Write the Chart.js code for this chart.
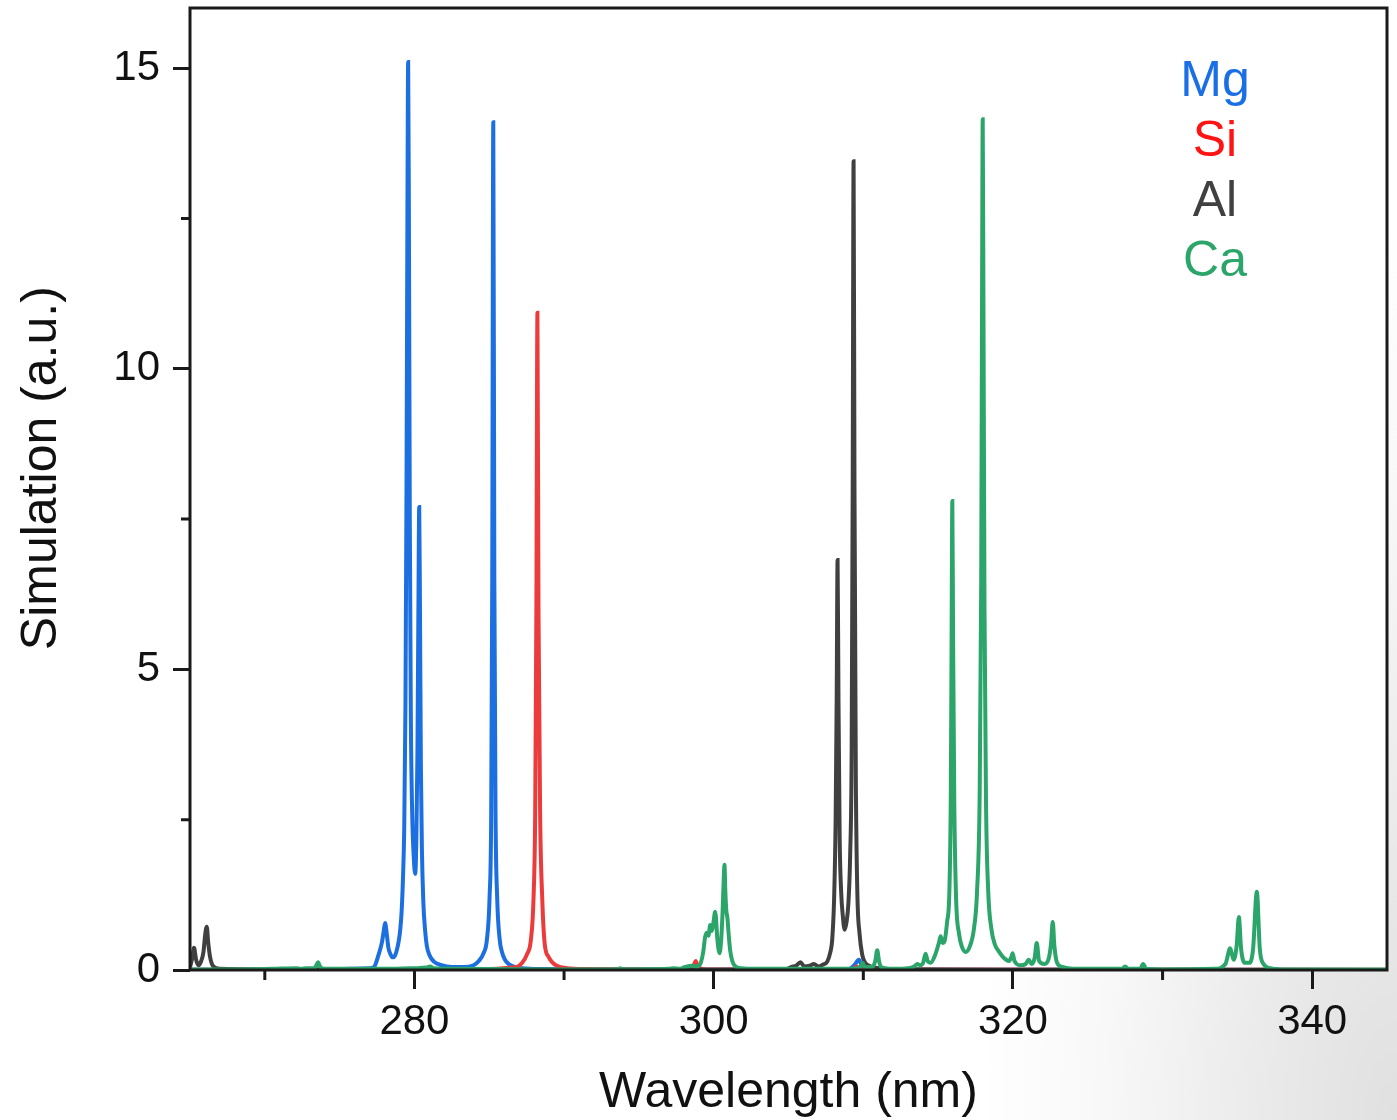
<!DOCTYPE html>
<html>
<head>
<meta charset="utf-8">
<title>Simulated spectrum</title>
<script src="https://cdn.jsdelivr.net/npm/chart.js@4"></script>
<style>
    html, body {
        margin: 0;
        padding: 0;
        width: 1397px;
        height: 1120px;
        overflow: hidden;
        background: radial-gradient(ellipse 420px 900px at 100% 100%, #e0e0e0 0%, #ebebeb 35%, #f8f8f8 70%, #ffffff 100%);
    }
    canvas {
        display: block;
    }
</style>
</head>
<body>
<canvas id="spectrumChart" width="1397" height="1120"></canvas>
<script>
// Wavelength axis (nm) and intensity axis (a.u.)
const xMin = 265;
const xMax = 345;
const yMin = 0;
const yMax = 16;
const xMajorTicks = [280, 300, 320, 340];
const xMinorTicks = [270, 290, 310, 330];
const yMajorTicks = [0, 5, 10, 15];
const yMinorTicks = [2.5, 7.5, 12.5];

// Mg
const mgWl = [265, 270, 274, 276, 277, 277.3, 277.6, 277.82, 277.95, 278.04, 278.15, 278.26, 278.4, 278.56, 278.7,
    278.82, 278.95, 279.05, 279.15, 279.23, 279.32, 279.4, 279.47, 279.53, 279.58, 279.63, 279.69, 279.76, 279.85,
    279.95, 280.05, 280.13, 280.2, 280.26, 280.32, 280.37, 280.43, 280.5, 280.6, 280.7, 280.83, 281.0, 281.3, 281.8,
    282.5, 283.3, 283.95, 284.3, 284.62, 284.84, 285.02, 285.13, 285.2, 285.27, 285.34, 285.42, 285.53, 285.7, 285.85,
    286.05, 286.3, 286.6, 287.2, 288.5, 292, 300, 305, 309.0, 309.4, 309.7, 309.9, 310.3, 312, 345];
const mgVal = [0.005, 0.005, 0.01, 0.02, 0.03, 0.05, 0.25, 0.45, 0.65, 0.78, 0.6, 0.37, 0.26, 0.21, 0.24,
    0.33, 0.48, 0.67, 1.0, 1.5, 2.4, 4.4, 8.0, 12.5, 15.1, 12.5, 7.5, 4.2, 2.6,
    1.9, 1.6, 2.2, 3.6, 5.8, 7.7, 6.0, 3.4, 2.0, 1.1, 0.7, 0.4, 0.25, 0.14, 0.08,
    0.05, 0.05, 0.08, 0.15, 0.28, 0.5, 1.2, 2.6, 6.5, 14.1, 6.5, 2.6, 1.2, 0.5, 0.3,
    0.17, 0.1, 0.06, 0.03, 0.015, 0.01, 0.005, 0.005, 0.01, 0.08, 0.17, 0.07, 0.02, 0.005, 0.002];

// Si
const siWl = [265, 280, 284, 285.5, 286.5, 286.85, 287.2, 287.52, 287.78, 287.96, 288.07, 288.15, 288.22, 288.29,
    288.4, 288.54, 288.7, 288.96, 289.2, 289.52, 290.2, 291.5, 295, 298.4, 298.7, 298.8, 298.95, 299.5,
    309.3, 309.55, 309.8, 345];
const siVal = [0.005, 0.01, 0.015, 0.02, 0.04, 0.05, 0.12, 0.26, 0.5, 1.2, 2.6, 6.0, 10.93, 6.0,
    2.6, 1.2, 0.45, 0.22, 0.13, 0.07, 0.03, 0.015, 0.01, 0.01, 0.1, 0.15, 0.05, 0.01,
    0.01, 0.06, 0.01, 0.005];

// Al
const alWl = [265, 265.15, 265.27, 265.4, 265.56, 265.75, 265.9, 266.02, 266.12, 266.22, 266.34, 266.56, 267, 270,
    290, 304.8, 305.2, 305.5, 305.8, 306.05, 306.4, 306.7, 307.0, 307.3, 307.59, 307.8, 307.92, 308.05, 308.15,
    308.22, 308.28, 308.34, 308.42, 308.52, 308.63, 308.75, 308.88, 309.0, 309.12, 309.22, 309.29, 309.35, 309.41,
    309.5, 309.6, 309.75, 309.93, 310.1, 310.3, 310.8, 312, 320, 345];
const alVal = [0.05, 0.2, 0.37, 0.18, 0.08, 0.15, 0.3, 0.6, 0.72, 0.45, 0.22, 0.06, 0.02, 0.01,
    0.005, 0.01, 0.05, 0.07, 0.13, 0.06, 0.07, 0.1, 0.06, 0.09, 0.14, 0.3, 0.5, 1.2, 2.5,
    4.5, 6.82, 4.5, 2.2, 1.3, 0.9, 0.67, 0.8, 1.1, 1.9, 3.6, 8.0, 13.45, 8.0,
    3.2, 1.3, 0.6, 0.25, 0.13, 0.08, 0.04, 0.015, 0.005, 0.002];

// Ca
const caWl = [265, 268, 270.5, 272.1, 272.4, 272.8, 273.3, 273.45, 273.56, 273.68, 274, 276, 278, 280.0, 280.8,
    281.05, 281.3, 283, 288, 293.6, 293.76, 293.9, 297, 297.33, 297.7, 298.1, 298.56, 298.85, 299.1, 299.3,
    299.43, 299.55, 299.65, 299.77, 299.88, 299.98, 300.1, 300.25, 300.39, 300.5, 300.6, 300.67, 300.72, 300.78,
    300.84, 300.92, 301.0, 301.1, 301.37, 301.8, 303, 309.0, 309.8, 309.95, 310.1, 310.6, 310.8, 310.93, 311.05,
    311.2, 312, 313.0, 313.4, 313.61, 313.8, 314.0, 314.16, 314.3, 314.5, 314.8, 315.05, 315.17, 315.3, 315.45,
    315.6, 315.75, 315.85, 315.9, 315.95, 316.0, 316.08, 316.2, 316.4, 316.6, 316.84, 317.1, 317.4, 317.6, 317.78,
    317.88, 317.94, 317.98, 318.03, 318.1, 318.2, 318.35, 318.55, 318.8, 319.0, 319.4, 319.75, 319.9, 319.98,
    320.1, 320.5, 320.85, 321.05, 321.25, 321.45, 321.59, 321.75, 322.1, 322.4, 322.55, 322.66, 322.77, 322.95,
    323.3, 324, 327.3, 327.5, 327.7, 328.5, 328.7, 328.9, 330, 333.5, 334.2, 334.52, 334.75, 334.95, 335.1,
    335.25, 335.5, 335.8, 336.05, 336.3, 336.5, 336.75, 337.2, 338, 345];
const caVal = [0.01, 0.01, 0.02, 0.03, 0.02, 0.03, 0.03, 0.08, 0.13, 0.06, 0.02, 0.02, 0.02, 0.03, 0.04,
    0.06, 0.03, 0.02, 0.01, 0.01, 0.03, 0.01, 0.02, 0.03, 0.02, 0.05, 0.07, 0.06, 0.1, 0.3,
    0.55, 0.62, 0.57, 0.75, 0.65, 0.78, 0.97, 0.5, 0.28, 0.5, 1.0, 1.5, 1.75, 1.3,
    1.0, 0.86, 0.6, 0.33, 0.08, 0.03, 0.02, 0.02, 0.05, 0.12, 0.05, 0.05, 0.15, 0.33, 0.15,
    0.05, 0.02, 0.03, 0.06, 0.1, 0.08, 0.12, 0.27, 0.15, 0.12, 0.25, 0.45, 0.56, 0.45, 0.5,
    0.8, 1.3, 3.0, 5.5, 7.8, 5.5, 2.8, 1.2, 0.6, 0.38, 0.3, 0.38, 0.7, 1.3, 3.0,
    6.5, 11.5, 14.15, 11.0, 6.0, 2.8, 1.3, 0.7, 0.42, 0.33, 0.2, 0.15, 0.22, 0.28,
    0.15, 0.08, 0.1, 0.17, 0.1, 0.2, 0.45, 0.15, 0.1, 0.2, 0.45, 0.8, 0.4, 0.12,
    0.05, 0.02, 0.02, 0.06, 0.02, 0.02, 0.1, 0.02, 0.01, 0.02, 0.1, 0.36, 0.17, 0.4, 0.88,
    0.35, 0.12, 0.12, 0.35, 1.3, 0.35, 0.1, 0.03, 0.01, 0.01];

// Element labels and line colours
const elements = ['Mg', 'Si', 'Al', 'Ca'];
const lineColors = ['#1b6fe0', '#ec3b3b', '#404040', '#2ba56a'];
const labelColors = ['#1a6fe6', '#ff1414', '#404040', '#2ba56a'];

const FONT = "'Liberation Sans', Arial, Helvetica, sans-serif";
const AXIS_COLOR = '#1a1a1a';

function toPoints(wl, val) {
    return wl.map((x, i) => ({ x: x, y: val[i] }));
}

// White plot background so the page shading stays outside the frame
const plotBackgroundPlugin = {
    id: 'plotBackground',
    beforeDraw(chart) {
        const { ctx, chartArea } = chart;
        ctx.save();
        ctx.fillStyle = '#ffffff';
        ctx.fillRect(chartArea.left, chartArea.top, chartArea.right - chartArea.left, chartArea.bottom - chartArea.top);
        ctx.restore();
    }
};

// Frame around the plot area plus the short minor ticks
const framePlugin = {
    id: 'frame',
    afterDraw(chart) {
        const { ctx, chartArea, scales } = chart;
        ctx.save();
        ctx.strokeStyle = AXIS_COLOR;
        ctx.lineWidth = 3;
        ctx.strokeRect(chartArea.left, chartArea.top, chartArea.right - chartArea.left, chartArea.bottom - chartArea.top);

        ctx.beginPath();
        yMinorTicks.forEach(v => {
            const py = scales.y.getPixelForValue(v);
            ctx.moveTo(chartArea.left, py);
            ctx.lineTo(chartArea.left - 9, py);
        });
        xMinorTicks.forEach(v => {
            const px = scales.x.getPixelForValue(v);
            ctx.moveTo(px, chartArea.bottom);
            ctx.lineTo(px, chartArea.bottom + 10);
        });
        ctx.stroke();
        ctx.restore();
    }
};

// Coloured element names in the upper right of the plot
const elementLabelPlugin = {
    id: 'elementLabels',
    afterDraw(chart) {
        const { ctx, chartArea } = chart;
        ctx.save();
        ctx.font = '50px ' + FONT;
        ctx.textAlign = 'center';
        ctx.textBaseline = 'alphabetic';
        const cx = chartArea.right - 172;
        elements.forEach((name, i) => {
            ctx.fillStyle = labelColors[i];
            ctx.fillText(name, cx, 96 + i * 60);
        });
        ctx.restore();
    }
};

function buildDatasets() {
    const series = [
        [mgWl, mgVal],
        [siWl, siVal],
        [alWl, alVal],
        [caWl, caVal]
    ];
    // Ca is drawn last so it sits on top along the baseline
    const drawOrder = [3, 2, 1, 0];
    return series.map((s, i) => ({
        label: elements[i],
        data: toPoints(s[0], s[1]),
        borderColor: lineColors[i],
        backgroundColor: lineColors[i],
        borderWidth: 4,
        pointRadius: 0,
        fill: false,
        cubicInterpolationMode: 'monotone',
        order: drawOrder[i]
    }));
}

// Drop the extra room Chart.js keeps for edge tick labels
function noEdgePadding(scale) {
    scale.paddingTop = 0;
    scale.paddingBottom = 0;
    scale.paddingLeft = 0;
    scale.paddingRight = 0;
}

function initializeChart() {
    const ctx = document.getElementById('spectrumChart').getContext('2d');
    return new Chart(ctx, {
        type: 'line',
        data: { datasets: buildDatasets() },
        options: {
            responsive: false,
            animation: false,
            devicePixelRatio: 1,
            layout: { padding: { top: 8, right: 10, left: 0, bottom: 0 } },
            plugins: {
                legend: { display: false },
                tooltip: { enabled: false }
            },
            scales: {
                x: {
                    type: 'linear',
                    min: xMin,
                    max: xMax,
                    afterBuildTicks: scale => {
                        scale.ticks = xMajorTicks.map(v => ({ value: v }));
                    },
                    afterFit: scale => {
                        scale.height = 150;
                        noEdgePadding(scale);
                    },
                    border: { display: false },
                    grid: {
                        drawOnChartArea: false,
                        drawTicks: true,
                        tickLength: 19,
                        lineWidth: 3,
                        tickWidth: 3,
                        tickColor: AXIS_COLOR
                    },
                    ticks: {
                        color: '#111',
                        padding: 8,
                        maxRotation: 0,
                        font: { family: FONT, size: 42 }
                    },
                    title: {
                        display: true,
                        text: 'Wavelength (nm)',
                        color: '#111',
                        padding: { top: 0, bottom: 2 },
                        font: { family: FONT, size: 50, lineHeight: 1.0 }
                    }
                },
                y: {
                    type: 'linear',
                    min: yMin,
                    max: yMax,
                    afterBuildTicks: scale => {
                        scale.ticks = yMajorTicks.map(v => ({ value: v }));
                    },
                    afterFit: scale => {
                        scale.width = 190;
                        noEdgePadding(scale);
                    },
                    border: { display: false },
                    grid: {
                        drawOnChartArea: false,
                        drawTicks: true,
                        tickLength: 17,
                        lineWidth: 3,
                        tickWidth: 3,
                        tickColor: AXIS_COLOR
                    },
                    ticks: {
                        color: '#111',
                        padding: 13,
                        font: { family: FONT, size: 42 }
                    },
                    title: {
                        display: true,
                        // leading spaces nudge the rotated title up a little
                        text: '   Simulation (a.u.)',
                        color: '#111',
                        padding: { top: 17, bottom: 0 },
                        font: { family: FONT, size: 50, lineHeight: 1.0 }
                    }
                }
            }
        },
        plugins: [plotBackgroundPlugin, framePlugin, elementLabelPlugin]
    });
}

document.addEventListener('DOMContentLoaded', function () {
    initializeChart();
});
</script>
</body>
</html>
